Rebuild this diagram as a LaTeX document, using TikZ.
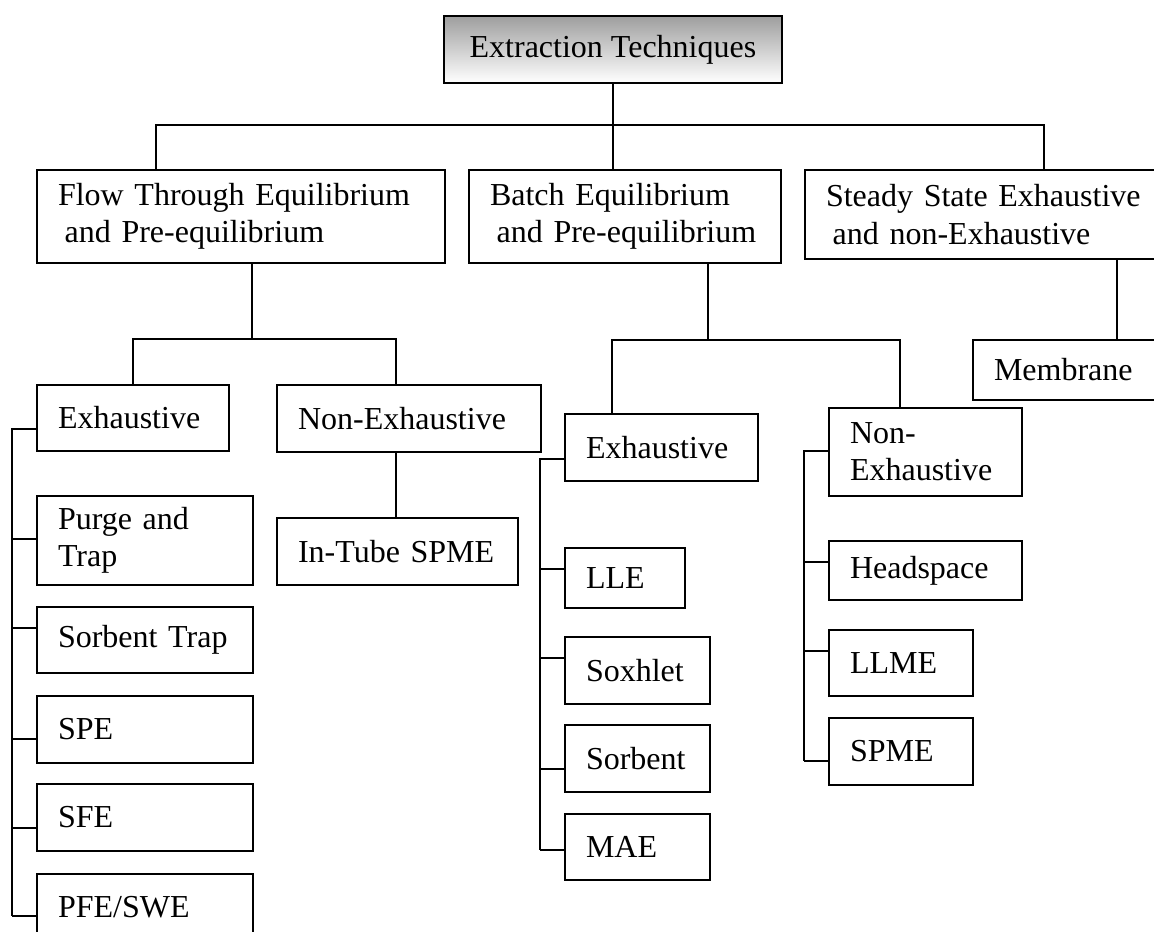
\documentclass[tikz,border=0pt]{standalone}
\usepackage{fontspec}
\setmainfont{Liberation Serif}
\begin{document}
\begin{tikzpicture}[x=0.375pt, y=-0.375pt, line width=0.7pt,
  every node/.style={font=\fontsize{12}{14}\selectfont},
  box/.style 2 args={draw, anchor=north west, inner xsep=7.9pt, inner ysep=0pt,
    minimum width=#1*0.375pt, minimum height=#2*0.375pt,
    text width=#1*0.375pt-15.8pt, align=left}]
  \clip (0,0) rectangle (1154,932);
  \node[draw, anchor=north west, minimum width=338*0.375pt, minimum height=67*0.375pt,
    top color=black!38, bottom color=white] (top) at (443,15) {Extraction Techniques};
  \node[box={408}{93}] (flow) at (36,169) {Flow Through Equilibrium\\\hspace*{2.5pt}and Pre-equilibrium};
  \node[box={312}{93}] (batch) at (468,169) {Batch Equilibrium\\\hspace*{2.5pt}and Pre-equilibrium};
  \node[box={400}{89}] (steady) at (804,169) {Steady State Exhaustive\\\hspace*{2.5pt}and non-Exhaustive};
  \node[box={192}{66}] (fex) at (36,384) {Exhaustive};
  \node[box={264}{67}] (fnex) at (276,384) {Non-Exhaustive};
  \node[box={241}{67}] (intube) at (276,517) {In-Tube SPME};
  \node[box={216}{89}] (purge) at (36,495) {Purge and\\Trap};
  \node[box={216}{66}] (strap) at (36,606) {Sorbent Trap};
  \node[box={216}{67}] (spe) at (36,695) {SPE};
  \node[box={216}{67}] (sfe) at (36,783) {SFE};
  \node[box={216}{67}] (pfe) at (36,873) {PFE/SWE};
  \node[box={193}{67}] (bex) at (564,413) {Exhaustive};
  \node[box={120}{60}] (lle) at (564,547) {LLE};
  \node[box={145}{67}] (sox) at (564,636) {Soxhlet};
  \node[box={145}{67}] (sorb) at (564,724) {Sorbent};
  \node[box={145}{66}] (mae) at (564,813) {MAE};
  \node[box={193}{88}] (bnex) at (828,407) {Non-\\Exhaustive};
  \node[box={193}{59}] (head) at (828,540) {Headspace};
  \node[box={144}{66}] (llme) at (828,629) {LLME};
  \node[box={144}{67}] (spme) at (828,717) {SPME};
  \node[box={240}{60}] (memb) at (972,339) {Membrane};
  \coordinate (j1) at (156,125);
  \coordinate (j2) at (1044,125);
  \coordinate (fd) at (252,339);
  \coordinate (j3) at (133,339);
  \coordinate (j4) at (396,339);
  \coordinate (bd) at (708,340);
  \coordinate (j5) at (612,340);
  \coordinate (j6) at (900,340);
  \coordinate (sd) at (1117,339);
  \coordinate (t1) at (12,429);
  \coordinate (t2) at (540,459);
  \coordinate (t3) at (804,451);
  \draw (top.south) -- (top.south |- batch.north);
  \draw (flow.north -| j1) -- (j1) -- (j2) -- (steady.north -| j2);
  \draw (flow.south -| fd) -- (fd);
  \draw (fex.north -| j3) -- (j3) -- (j4) -- (fnex.north -| j4);
  \draw (fnex.south -| j4) -- (intube.north -| j4);
  \draw (batch.south -| bd) -- (bd);
  \draw (bex.north -| j5) -- (j5) -- (j6) -- (bnex.north -| j6);
  \draw (steady.south -| sd) -- (memb.north -| sd);
  \draw (fex.west |- t1) -- (t1) -- (t1 |- 0,916);
  \foreach \n/\y in {purge/539, strap/628, spe/739, sfe/828, pfe/916}
    \draw (\n.west |- 0,\y) -- (t1 |- 0,\y);
  \draw (bex.west |- t2) -- (t2) -- (t2 |- 0,850);
  \foreach \n/\y in {lle/569, sox/658, sorb/769, mae/850}
    \draw (\n.west |- 0,\y) -- (t2 |- 0,\y);
  \draw (bnex.west |- t3) -- (t3) -- (t3 |- 0,761);
  \foreach \n/\y in {head/562, llme/651, spme/761}
    \draw (\n.west |- 0,\y) -- (t3 |- 0,\y);
\end{tikzpicture}
\end{document}
